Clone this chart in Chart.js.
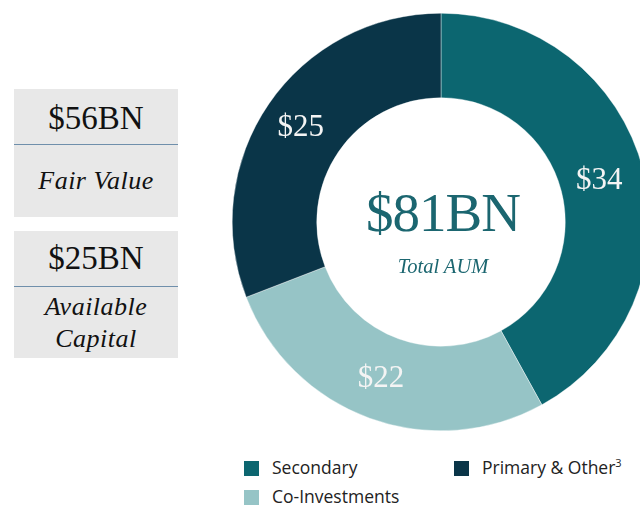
<!DOCTYPE html>
<html>
<head>
<meta charset="utf-8">
<script src="https://cdn.jsdelivr.net/npm/chart.js@4/dist/chart.umd.min.js"></script>
<style>
  html, body { margin: 0; padding: 0; width: 640px; height: 505px; overflow: hidden; background: #fff; }
  .box { position: absolute; left: 14px; width: 164px; background: #e8e8e8; font-family: "Liberation Serif", "Times New Roman", serif; color: #111; text-align: center; }
  .box .big { position: absolute; left: 0; right: 0; font-size: 33px; line-height: 1; }
  .box .rule { position: absolute; left: 0; right: 0; height: 0; border-top: 1.5px solid #6f8fab; }
  .box .sub { position: absolute; left: 0; right: 0; font-size: 26px; font-style: italic; letter-spacing: 0.5px; line-height: 32px; }
  #chartWrap { position: absolute; left: 232px; top: 13px; width: 418px; height: 418px; }
  .center { position: absolute; text-align: center; font-family: "Liberation Serif", "Times New Roman", serif; color: #1b6670; }
  .legend { position: absolute; font-family: "Open Sans", "Noto Sans", sans-serif; font-size: 17.5px; color: #222; }
  .legend .sq { position: absolute; width: 15px; height: 15px; }
  .legend .lbl { position: absolute; white-space: nowrap; }
</style>
</head>
<body>

<div class="box" style="top:89px;height:128px;">
  <div class="big" style="top:13px;">$56BN</div>
  <div class="rule" style="top:55px;"></div>
  <div class="sub" style="top:76px;">Fair Value</div>
</div>
<div class="box" style="top:231px;height:127px;">
  <div class="big" style="top:11px;">$25BN</div>
  <div class="rule" style="top:55px;"></div>
  <div class="sub" style="top:60px;">Available<br>Capital</div>
</div>

<div id="chartWrap"><canvas id="aumChart"></canvas></div>

<div class="center" style="left:341px;width:204px;top:185px;font-size:55px;line-height:1;letter-spacing:-1px;">$81BN</div>
<div class="center" style="left:341px;width:204px;top:256px;font-size:20.5px;font-style:italic;line-height:1;">Total AUM</div>

<div class="legend" id="legend"></div>

<script>
// Date grafic
const categories = ['Secondary', 'Co-Investments', 'Primary & Other³'];
const aumValues = [34, 22, 25];
const sliceLabels = ['$34', '$22', '$25'];
const sliceColors = ['#0c6670', '#96c4c6', '#0a3548'];

// Etichete valori pe felii
const sliceLabelPlugin = {
    id: 'sliceLabels',
    afterDatasetsDraw(chart) {
        const ctx = chart.ctx;
        const meta = chart.getDatasetMeta(0);
        ctx.save();
        ctx.font = '31px "Liberation Serif", "Times New Roman", serif';
        ctx.fillStyle = '#f4f4f4';
        ctx.textAlign = 'center';
        ctx.textBaseline = 'middle';
        meta.data.forEach((arc, i) => {
            const pos = arc.tooltipPosition();
            ctx.fillText(sliceLabels[i], pos.x - 3, pos.y);
        });
        ctx.restore();
    }
};

const ctx = document.getElementById('aumChart').getContext('2d');
window.aumChart = new Chart(ctx, {
    type: 'doughnut',
    data: {
        labels: categories,
        datasets: [{
            data: aumValues,
            backgroundColor: sliceColors,
            borderColor: '#ffffff',
            borderWidth: 0.4,
            hoverOffset: 0
        }]
    },
    options: {
        responsive: true,
        maintainAspectRatio: false,
        animation: false,
        cutout: '59.5%',
        layout: { padding: 0 },
        plugins: {
            legend: { display: false },
            tooltip: { enabled: false }
        }
    },
    plugins: [sliceLabelPlugin]
});

// Legenda in HTML (doua coloane)
const legendSpots = [
    { sq: [244, 461], lbl: [272, 455] },
    { sq: [244, 490], lbl: [272, 484] },
    { sq: [454, 461], lbl: [482, 455] }
];
const legendEl = document.getElementById('legend');
categories.forEach((name, i) => {
    const s = legendSpots[i];
    const sq = document.createElement('div');
    sq.className = 'sq';
    sq.style.left = s.sq[0] + 'px';
    sq.style.top = s.sq[1] + 'px';
    sq.style.background = sliceColors[i];
    legendEl.appendChild(sq);
    const lbl = document.createElement('div');
    lbl.className = 'lbl';
    lbl.style.left = s.lbl[0] + 'px';
    lbl.style.top = s.lbl[1] + 'px';
    lbl.innerHTML = name.replace('³', '<sup style="font-size:11px;vertical-align:7px;">3</sup>');
    legendEl.appendChild(lbl);
});
</script>
</body>
</html>
